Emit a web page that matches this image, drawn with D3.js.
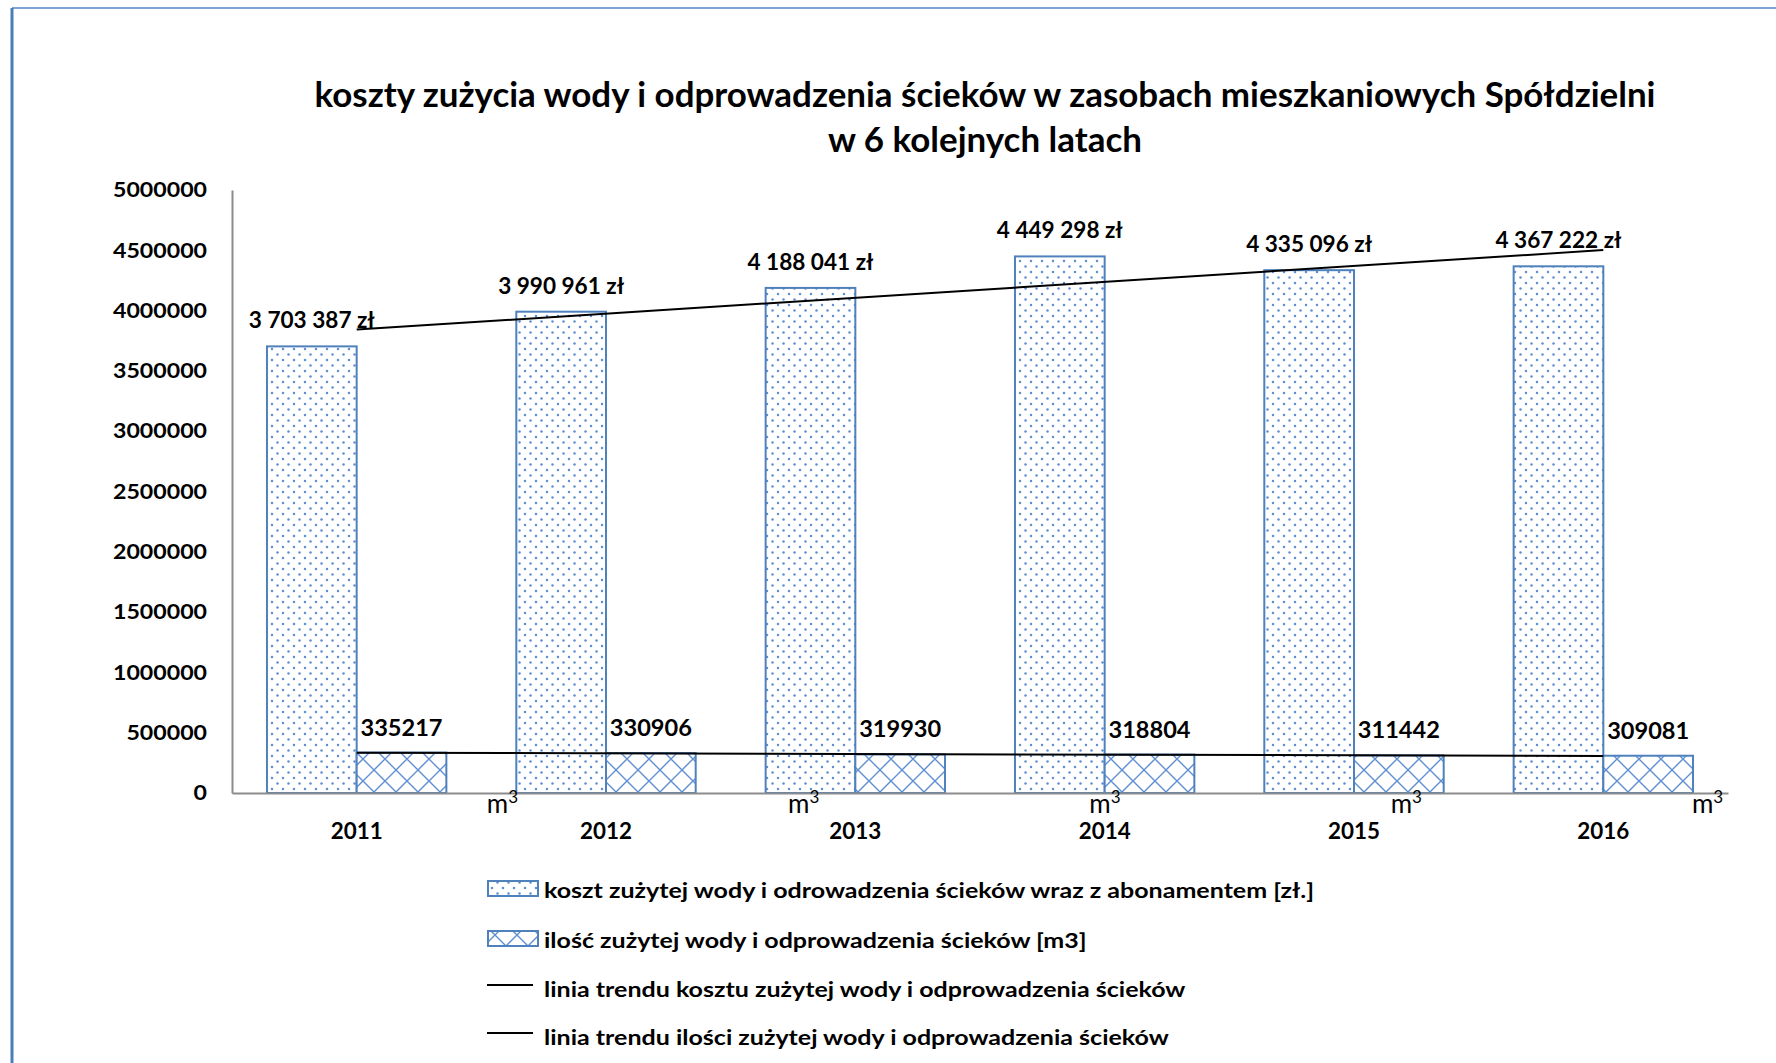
<!DOCTYPE html>
<html><head><meta charset="utf-8">
<script src="https://cdn.jsdelivr.net/npm/d3@7"></script>
<style>
body{margin:0;background:#fff}
svg{display:block}
text{font-family:Lato,"Open Sans",sans-serif}
</style>
</head><body>
<svg id="c" width="1776" height="1063"></svg>
<script>
// ---------------- data ----------------
const years = ["2011","2012","2013","2014","2015","2016"];
const costValues = [3703387,3990961,4188041,4449298,4335096,4367222];
const qtyValues  = [335217,330906,319930,318804,311442,309081];
const yTicks = [0,500000,1000000,1500000,2000000,2500000,3000000,3500000,4000000,4500000,5000000];
const unitBase = ["m","m","m","m","m"];
const unitSup  = ["3","3","3","3","3"];
const titleLines = [
  "koszty zużycia wody i odprowadzenia ścieków w zasobach mieszkaniowych Spółdzielni",
  "w 6 kolejnych latach"
];
const legendLabels = [
  "koszt zużytej wody i odrowadzenia ścieków wraz z abonamentem [zł.]",
  "ilość zużytej wody i odprowadzenia ścieków [m3]",
  "linia trendu kosztu zużytej wody i odprowadzenia ścieków",
  "linia trendu ilości zużytej wody i odprowadzenia ścieków"
];

// ---------------- setup ----------------
const W = 1776, H = 1063;
const svg = d3.select("#c");
const blue = "#4f81bd", patBlue = "#5f8fd2";

const defs = svg.append("defs");
const pd = defs.append("pattern").attr("id","dots").attr("patternUnits","userSpaceOnUse")
  .attr("width",11).attr("height",11);
pd.append("rect").attr("width",11).attr("height",11).attr("fill","#fff");
pd.append("circle").attr("cx",2.5).attr("cy",2.5).attr("r",1.25).attr("fill",patBlue);
pd.append("circle").attr("cx",8).attr("cy",8).attr("r",1.25).attr("fill",patBlue);

const pc = defs.append("pattern").attr("id","cross").attr("patternUnits","userSpaceOnUse")
  .attr("width",22).attr("height",22);
pc.append("rect").attr("width",22).attr("height",22).attr("fill","#fff");
pc.append("path").attr("d","M0,0L22,22M22,0L0,22M-11,11L11,33M11,-11L33,11M-11,11L11,-11M11,33L33,11")
  .attr("stroke",patBlue).attr("stroke-width",1.4).attr("fill","none");

// outer frame (cropped at right/bottom)
svg.append("line").attr("x1",12).attr("x2",W+10).attr("y1",8).attr("y2",8)
  .attr("stroke","#7ea3d6").attr("stroke-width",2);
svg.append("line").attr("x1",12).attr("x2",12).attr("y1",8).attr("y2",H+10)
  .attr("stroke","#4a7ebb").attr("stroke-width",3);

const plot = {left:232, right:1728, top:190, bottom:793};
const x = d3.scaleBand().domain(years).range([plot.left, plot.right]).paddingInner(0).paddingOuter(0);
const xs = d3.scaleBand().domain(["cost","qty"]).range([0, x.bandwidth()]).paddingInner(0).paddingOuter(0.39);
const y = d3.scaleLinear().domain([0,5000000]).range([plot.bottom, plot.top]);

function stretch(sel, k){
  sel.each(function(){
    const w = this.getComputedTextLength();
    this.setAttribute("textLength", w*k);
    this.setAttribute("lengthAdjust","spacingAndGlyphs");
  });
}
function fitFactor(sel, target){ return target / sel.node().getComputedTextLength(); }

// ---------------- title ----------------
const tl = svg.append("g").selectAll("text").data(titleLines).join("text")
  .attr("x",985).attr("y",(d,i)=>107+i*45).attr("text-anchor","middle")
  .style("font-size","34px").attr("font-weight",700).attr("fill","#000").text(d=>d);
const kT = fitFactor(tl.filter((d,i)=>i===0), 1341);
stretch(tl, kT);

// ---------------- axes ----------------
const yAxis = d3.axisLeft(y).tickValues(yTicks).tickSize(0).tickPadding(25).tickFormat(d3.format("d"));
const gy = svg.append("g").attr("transform",`translate(${plot.left},0)`).call(yAxis);
gy.select(".domain").attr("stroke","#8c8c8c").attr("stroke-width",2);
gy.selectAll("text").style("font-size","21px").attr("font-weight",700).attr("fill","#000")
  .style("font-family","Lato");
const kL = fitFactor(gy.selectAll("text").filter(d=>d===5000000), 94);
stretch(gy.selectAll("text"), kL);

const xAxis = d3.axisBottom(x).tickSize(0).tickPadding(30);
const gx = svg.append("g").attr("transform",`translate(0,${plot.bottom})`).call(xAxis);
gx.select(".domain").attr("stroke","#8c8c8c").attr("stroke-width",2);
gx.selectAll("text").style("font-size","22px").attr("font-weight",700).attr("fill","#000")
  .style("font-family","Lato");
const kX = fitFactor(gx.selectAll("text").filter(d=>d==="2011"), 52);
stretch(gx.selectAll("text"), kX);

// ---------------- bars ----------------
const bars = svg.append("g");
bars.selectAll("rect.cost").data(years).join("rect").attr("class","cost")
  .attr("x",d=>x(d)+xs("cost")).attr("width",xs.bandwidth())
  .attr("y",(d,i)=>y(costValues[i])).attr("height",(d,i)=>y(0)-y(costValues[i]))
  .attr("fill","url(#dots)").attr("stroke",blue).attr("stroke-width",2);
bars.selectAll("rect.qty").data(years).join("rect").attr("class","qty")
  .attr("x",d=>x(d)+xs("qty")).attr("width",xs.bandwidth())
  .attr("y",(d,i)=>y(qtyValues[i])).attr("height",(d,i)=>y(0)-y(qtyValues[i]))
  .attr("fill","url(#cross)").attr("stroke",blue).attr("stroke-width",2);
gx.raise();

// ---------------- trend lines ----------------
function linReg(vals){
  const n = vals.length, xm = (n+1)/2, ym = d3.mean(vals);
  let sxy=0, sxx=0;
  vals.forEach((v,i)=>{ sxy += (i+1-xm)*(v-ym); sxx += (i+1-xm)*(i+1-xm); });
  const b = sxy/sxx, a = ym - b*xm;
  return i => a + b*(i+1);
}
const center = d => x(d) + x.bandwidth()/2;
const lineGen = d3.line().x(d=>center(d.year)).y(d=>y(d.v));
[costValues, qtyValues].forEach(vals=>{
  const f = linReg(vals);
  const ends = [0, years.length-1].map(i=>({year:years[i], v:f(i)}));
  svg.append("path").attr("d",lineGen(ends)).attr("stroke","#000").attr("stroke-width",2).attr("fill","none");
});

// ---------------- data labels ----------------
const plFmt = d3.formatLocale({decimal:",", thousands:" ", grouping:[3], currency:["","zł"]}).format(",d");
const lab = svg.append("g");
const cl = lab.selectAll("text.cl").data(years).join("text").attr("class","cl")
  .attr("x",d=>x(d)+xs("cost")+xs.bandwidth()/2).attr("y",(d,i)=>y(costValues[i])-18)
  .attr("text-anchor","middle").style("font-size","22px").attr("font-weight",700)
  .text((d,i)=>plFmt(costValues[i])+" zł");
const kC = fitFactor(cl.filter((d,i)=>i===0), 126);
stretch(cl, kC);
const ql = lab.selectAll("text.ql").data(years).join("text").attr("class","ql")
  .attr("x",d=>x(d)+xs("qty")+xs.bandwidth()/2).attr("y",(d,i)=>y(qtyValues[i])-17)
  .attr("text-anchor","middle").style("font-size","22px").attr("font-weight",700)
  .text((d,i)=>qtyValues[i]);
const kQ = fitFactor(ql.filter((d,i)=>i===0), 82);
stretch(ql, kQ);

// unit labels (m³) spread below the axis
const uX = d3.scaleLinear().domain([0, unitBase.length-1])
  .range([plot.left + 0.181*(plot.right-plot.left), plot.left + 0.9866*(plot.right-plot.left)]);
const ug = svg.append("g").attr("class","units");
unitBase.forEach((b,i)=>{
  const t = ug.append("text").attr("x",uX(i)-16).attr("y",plot.bottom+20)
    .attr("font-size",26).attr("font-weight",400).attr("fill","#000");
  t.append("tspan").attr("font-size",26).text(b);
  t.append("tspan").attr("font-size",17).attr("dy",-10).text(unitSup[i]);
});

// ---------------- legend ----------------
const lg = svg.append("g");
const rowsY = [898, 948, 997, 1045];
legendLabels.forEach((t,i)=>{
  const g = lg.append("g");
  if(i<2){
    g.append("rect").attr("x",488).attr("y",rowsY[i]-17).attr("width",50).attr("height",15)
      .attr("fill", i===0 ? "url(#dots)" : "url(#cross)").attr("stroke",blue).attr("stroke-width",2);
  } else {
    g.append("line").attr("x1",487).attr("x2",533).attr("y1",rowsY[i]-12).attr("y2",rowsY[i]-12)
      .attr("stroke","#000").attr("stroke-width",2);
  }
  g.append("text").attr("class","lt").attr("x",544).attr("y",rowsY[i])
    .style("font-size","21px").attr("font-weight",700).text(t);
});
const lts = lg.selectAll("text.lt");
const kG = fitFactor(lts.filter((d,i)=>i===0), 770);
stretch(lts, kG);
</script>
</body></html>
